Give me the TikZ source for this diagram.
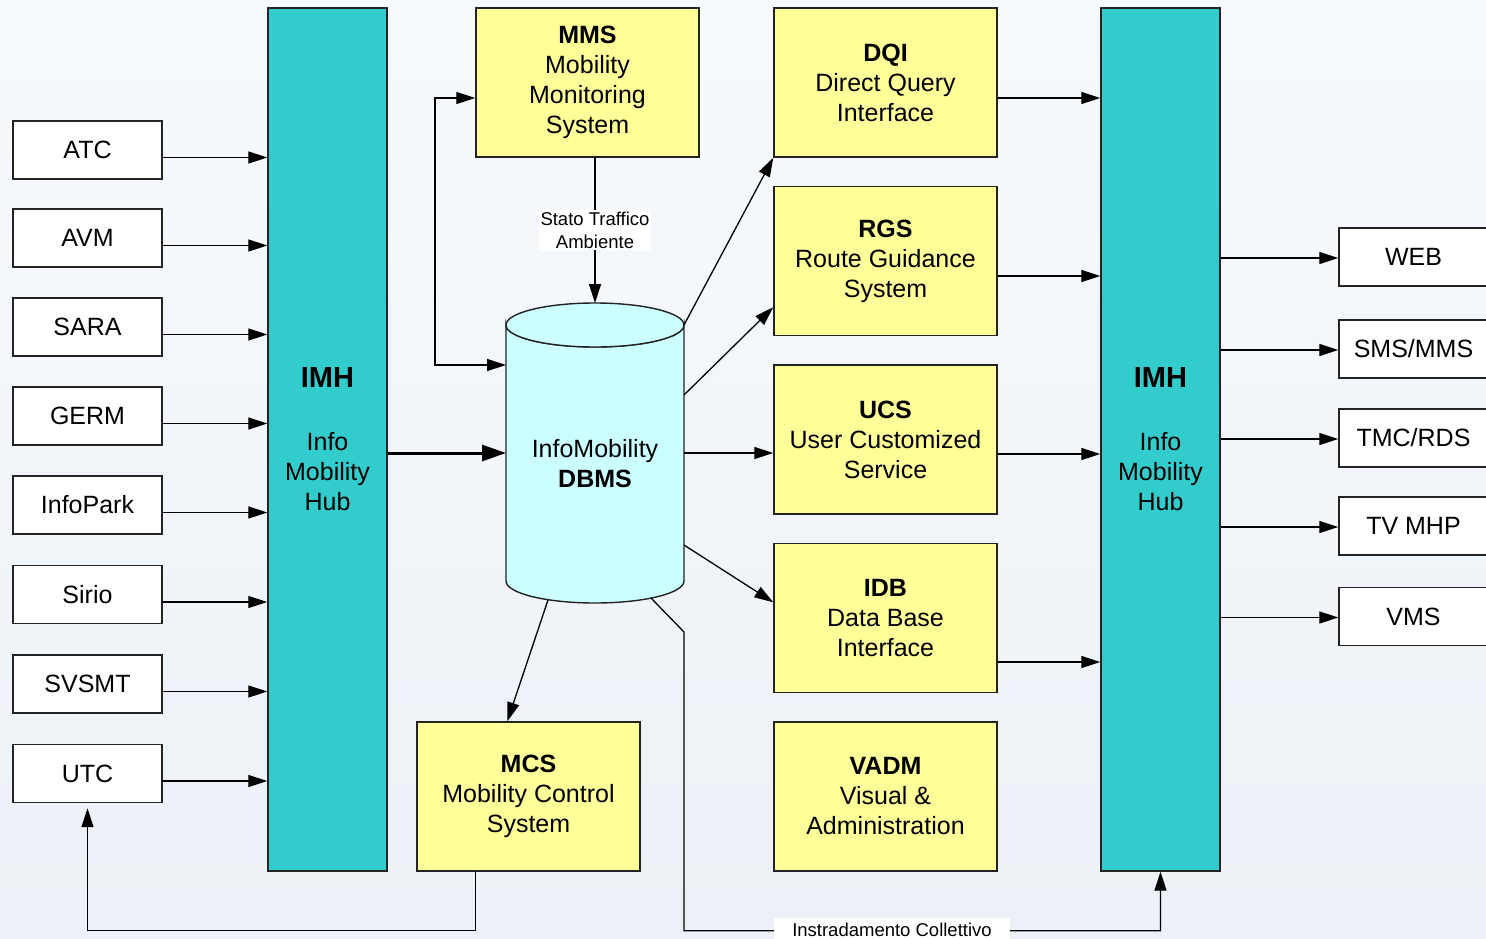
\documentclass[tikz,border=0pt]{standalone}
\usepackage{fontspec}
\setmainfont{Liberation Sans}
\usetikzlibrary{arrows.meta,calc}
\definecolor{bgtop}{RGB}{247,250,253}
\definecolor{bgbot}{RGB}{236,241,247}
\definecolor{ylw}{RGB}{255,255,153}
\definecolor{hubc}{RGB}{51,204,204}
\definecolor{cylc}{RGB}{204,255,255}
\definecolor{edge}{RGB}{35,35,35}
\newcommand{\hubtitle}{{\fontsize{29}{30}\selectfont\textbf{IMH}}}
\begin{document}
\begin{tikzpicture}[x=1pt,y=-1pt,
  box/.style={draw=edge,line width=1.4pt,inner sep=0pt,align=center,font=\fontsize{25}{30}\selectfont},
  ybox/.style={box,fill=ylw,minimum width=223pt,minimum height=149pt},
  wbox/.style={box,fill=white,minimum width=149pt,minimum height=58pt},
  hub/.style={box,fill=hubc,minimum width=119pt,minimum height=863pt},
  conn/.style={draw=black,line width=1.3pt},
  tip/.tip={Triangle[length=19pt,width=12pt]},
  arr/.style={conn,-tip},
  lbl/.style={fill=white,inner sep=1.5pt,align=center,font=\fontsize{18.5}{23}\selectfont}]
\useasboundingbox (0,0) rectangle (1486,938);
\clip (0,0) rectangle (1486,938);
\shade[top color=bgtop,bottom color=bgbot] (0,0) rectangle (1486,938);

% hubs
\node[hub] (imh1) at (327.5,439.5) {\hubtitle\\[33pt]Info\\Mobility\\Hub};
\node[hub] (imh2) at (1160.5,439.5) {\hubtitle\\[33pt]Info\\Mobility\\Hub};

% yellow boxes
\node[ybox] (mms) at (587.5,82.5) {\textbf{MMS}\\Mobility\\Monitoring\\System};
\node[ybox] (dqi) at (885.5,82.5) {\textbf{DQI}\\Direct Query\\Interface};
\node[ybox] (rgs) at (885.5,261) {\textbf{RGS}\\Route Guidance\\System};
\node[ybox] (ucs) at (885.5,439.5) {\textbf{UCS}\\User Customized\\Service};
\node[ybox] (idb) at (885.5,618) {\textbf{IDB}\\Data Base\\Interface};
\node[ybox] (vadm) at (885.5,796.5) {\textbf{VADM}\\Visual \&\\Administration};
\node[ybox] (mcs) at (528.5,796.5) {\textbf{MCS}\\Mobility Control\\System};

% cylinder
\filldraw[fill=cylc,draw=edge,line width=1.4pt] (506,325) -- (506,581)
  arc[start angle=180,end angle=0,x radius=89,y radius=22] -- (684,325)
  arc[start angle=0,end angle=180,x radius=89,y radius=22] -- cycle;
\filldraw[fill=cylc,draw=edge,line width=1.4pt] (595,325) ellipse [x radius=89,y radius=22];
\node[font=\fontsize{25}{30}\selectfont,align=center] (dbms) at (595,464) {InfoMobility\\\textbf{DBMS}};
\coordinate (cyltop) at (595,303);
\coordinate (cylW) at (506,453);
\coordinate (cylW2) at (506,365);
\coordinate (cylE1) at (684,325);
\coordinate (cylE2) at (684,395);
\coordinate (cylE3) at (684,453);
\coordinate (cylE4) at (684,545);
\coordinate (cylB1) at (548,600);
\coordinate (cylB2) at (651,598);
\coordinate (bend) at (684,632);

% left sources
\foreach \n/\t/\y in {atc/ATC/150,avm/AVM/238,sara/SARA/327,germ/GERM/416,infopark/InfoPark/505,sirio/Sirio/594.5,svsmt/SVSMT/684,utc/UTC/773.5}{
  \node[wbox] (\n) at (87.5,\y) {\t};
  \draw[arr] ($(\n.east)+(0,7.5)$) -- ($(\n.east -| imh1.west)+(0,7.5)$);
}

% right outputs
\foreach \n/\t/\y in {web/WEB/257,sms/{SMS/MMS}/349,tmc/{TMC/RDS}/438,tv/{TV MHP}/526,vms/VMS/616.5}{
  \node[wbox] (\n) at (1413.5,\y) {\t};
  \draw[arr] ($(imh2.east |- \n.west)+(0,1)$) -- ($(\n.west)+(0,1)$);
}

% hub to dbms
\draw[conn,line width=3pt,-{Triangle[length=24pt,width=16pt]}] (imh1.east |- cylW) -- (cylW);

% MMS to dbms
\draw[arr] (cyltop |- mms.south) -- (cyltop);
\node[lbl] (stato) at (595,230) {Stato Traffico\\Ambiente};

% loop MMS <-> dbms
\draw[conn,tip-tip] ($(mms.west)+(0,15.5)$) -| ($(cylW2)+(-71,0)$) -- (cylW2);

% dbms to yellow boxes
\draw[arr] (cylE1) -- (dqi.south west);
\draw[arr] (cylE2) -- ($(rgs.south west)+(0,-29)$);
\draw[arr] (cylE3) -- (cylE3 -| ucs.west);
\draw[arr] (cylE4) -- ($(idb.north west)+(0,59.5)$);
\draw[arr] (cylB1) -- ($(mcs.north west)+(91,0)$);

% yellow boxes to hub 2
\draw[arr] ($(dqi.east)+(0,15.5)$) -- ($(dqi.east -| imh2.west)+(0,15.5)$);
\draw[arr] ($(rgs.east)+(0,15)$) -- ($(rgs.east -| imh2.west)+(0,15)$);
\draw[arr] ($(ucs.east)+(0,14.5)$) -- ($(ucs.east -| imh2.west)+(0,14.5)$);
\draw[arr] ($(idb.east)+(0,44)$) -- ($(idb.east -| imh2.west)+(0,44)$);

% instradamento collettivo
\draw[arr] (cylB2) -- (bend) |- ($(imh2.south)+(0,59)$) -- (imh2.south);
\node[lbl,inner xsep=18pt,inner ysep=5pt] (instr) at (892,930) {Instradamento Collettivo};

% MCS to UTC
\draw[arr] ($(mcs.south west)+(59,0)$) |- ($(utc.south)+(0,127)$) -- ($(utc.south)+(0,5)$);
\end{tikzpicture}
\end{document}
